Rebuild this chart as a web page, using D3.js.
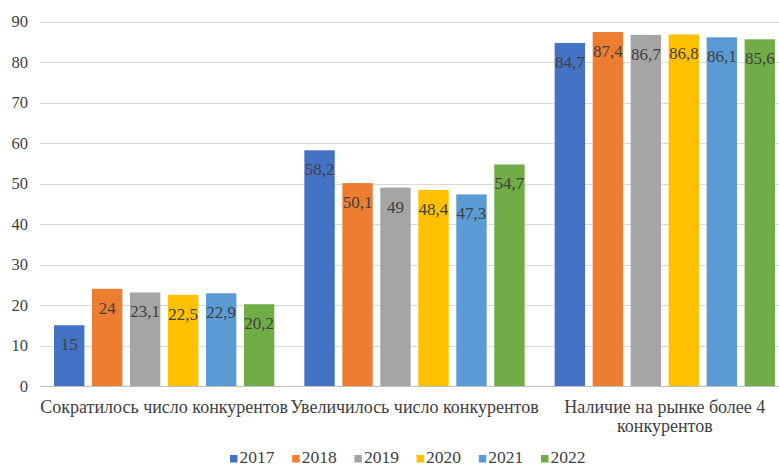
<!DOCTYPE html>
<html>
<head>
<meta charset="utf-8">
<script src="https://cdn.jsdelivr.net/npm/d3@7"></script>
<style>
  body { margin: 0; background: #fff; }
</style>
</head>
<body>
<svg id="chart" width="779" height="468"></svg>
<script>
var categories = ["Сократилось число конкурентов", "Увеличилось число конкурентов", "Наличие на рынке более 4 конкурентов"];
var years = ["2017", "2018", "2019", "2020", "2021", "2022"];
var values2017 = [15, 58.2, 84.7];
var values2018 = [24, 50.1, 87.4];
var values2019 = [23.1, 49, 86.7];
var values2020 = [22.5, 48.4, 86.8];
var values2021 = [22.9, 47.3, 86.1];
var values2022 = [20.2, 54.7, 85.6];
var yTicks = [0, 10, 20, 30, 40, 50, 60, 70, 80, 90];
var colors = ["#4472C4", "#ED7D31", "#A5A5A5", "#FFC000", "#5B9BD5", "#70AD47"];

var series = [values2017, values2018, values2019, values2020, values2021, values2022];
var serif = "Liberation Serif";

var svg = d3.select("#chart");

var x = d3.scaleBand().domain(categories).range([39, 790]);
var xInner = d3.scaleBand().domain(years).range([15, x.bandwidth() - 15]).paddingInner(0.2);
var y = d3.scaleLinear().domain([0, 90]).range([386, 21.5]);
var color = d3.scaleOrdinal().domain(years).range(colors);

// grid
svg.append("g").selectAll("line")
  .data(yTicks)
  .join("line")
    .attr("x1", 40).attr("x2", 779)
    .attr("y1", d => Math.round(y(d)) + 0.5)
    .attr("y2", d => Math.round(y(d)) + 0.5)
    .attr("stroke", d => d === 0 ? "#bfbfbf" : "#d9d9d9")
    .attr("stroke-width", 1);

// y labels
svg.append("g").selectAll("text")
  .data(yTicks)
  .join("text")
    .attr("x", 28)
    .attr("y", d => y(d))
    .attr("dy", "0.35em")
    .attr("text-anchor", "end")
    .attr("font-family", serif)
    .attr("fill", "#404040")
    .style("font-size", "16.5px")
    .text(d => d);

// bars
var rows = [];
categories.forEach(function(c, i) {
  years.forEach(function(yr, j) {
    rows.push({cat: c, year: yr, value: series[j][i]});
  });
});

var barG = svg.append("g");
barG.selectAll("rect")
  .data(rows)
  .join("rect")
    .attr("x", d => x(d.cat) + xInner(d.year))
    .attr("y", d => y(d.value))
    .attr("width", xInner.bandwidth())
    .attr("height", d => y(0) - y(d.value))
    .attr("fill", d => color(d.year));

barG.selectAll("text")
  .data(rows)
  .join("text")
    .attr("x", d => x(d.cat) + xInner(d.year) + xInner.bandwidth() / 2)
    .attr("y", d => y(d.value) + 19)
    .attr("dy", "0.35em")
    .attr("text-anchor", "middle")
    .attr("font-family", serif)
    .attr("fill", "#404040")
    .style("font-size", "17px")
    .text(d => String(d.value).replace(".", ","));

// category labels, wrapped
var catG = svg.append("g").selectAll("text")
  .data(categories)
  .join("text")
    .attr("x", d => x(d) + x.bandwidth() / 2)
    .attr("y", 413)
    .attr("text-anchor", "middle")
    .attr("font-family", serif)
    .attr("fill", "#404040")
    .style("font-size", "18px");

catG.each(function(d) {
  var el = d3.select(this);
  var words = d.split(" ");
  var line = [];
  var tspan = el.append("tspan").attr("x", el.attr("x")).attr("dy", 0);
  words.forEach(function(w) {
    line.push(w);
    tspan.text(line.join(" "));
    if (tspan.node().getComputedTextLength() > 275 && line.length > 1) {
      line.pop();
      tspan.text(line.join(" "));
      line = [w];
      tspan = el.append("tspan").attr("x", el.attr("x")).attr("dy", 19).text(w);
    }
  });
});

// legend
var legend = svg.append("g").selectAll("g")
  .data(years)
  .join("g")
    .attr("transform", (d, i) => "translate(" + (230 + i * 62.2) + ",0)");

legend.append("rect")
  .attr("x", 0).attr("y", 455)
  .attr("width", 7.5).attr("height", 7.5)
  .attr("fill", d => color(d));

legend.append("text")
  .attr("x", 9.5).attr("y", 463)
  .attr("font-family", serif)
  .attr("fill", "#404040")
  .style("font-size", "17.5px")
  .text(d => d);
</script>
</body>
</html>
